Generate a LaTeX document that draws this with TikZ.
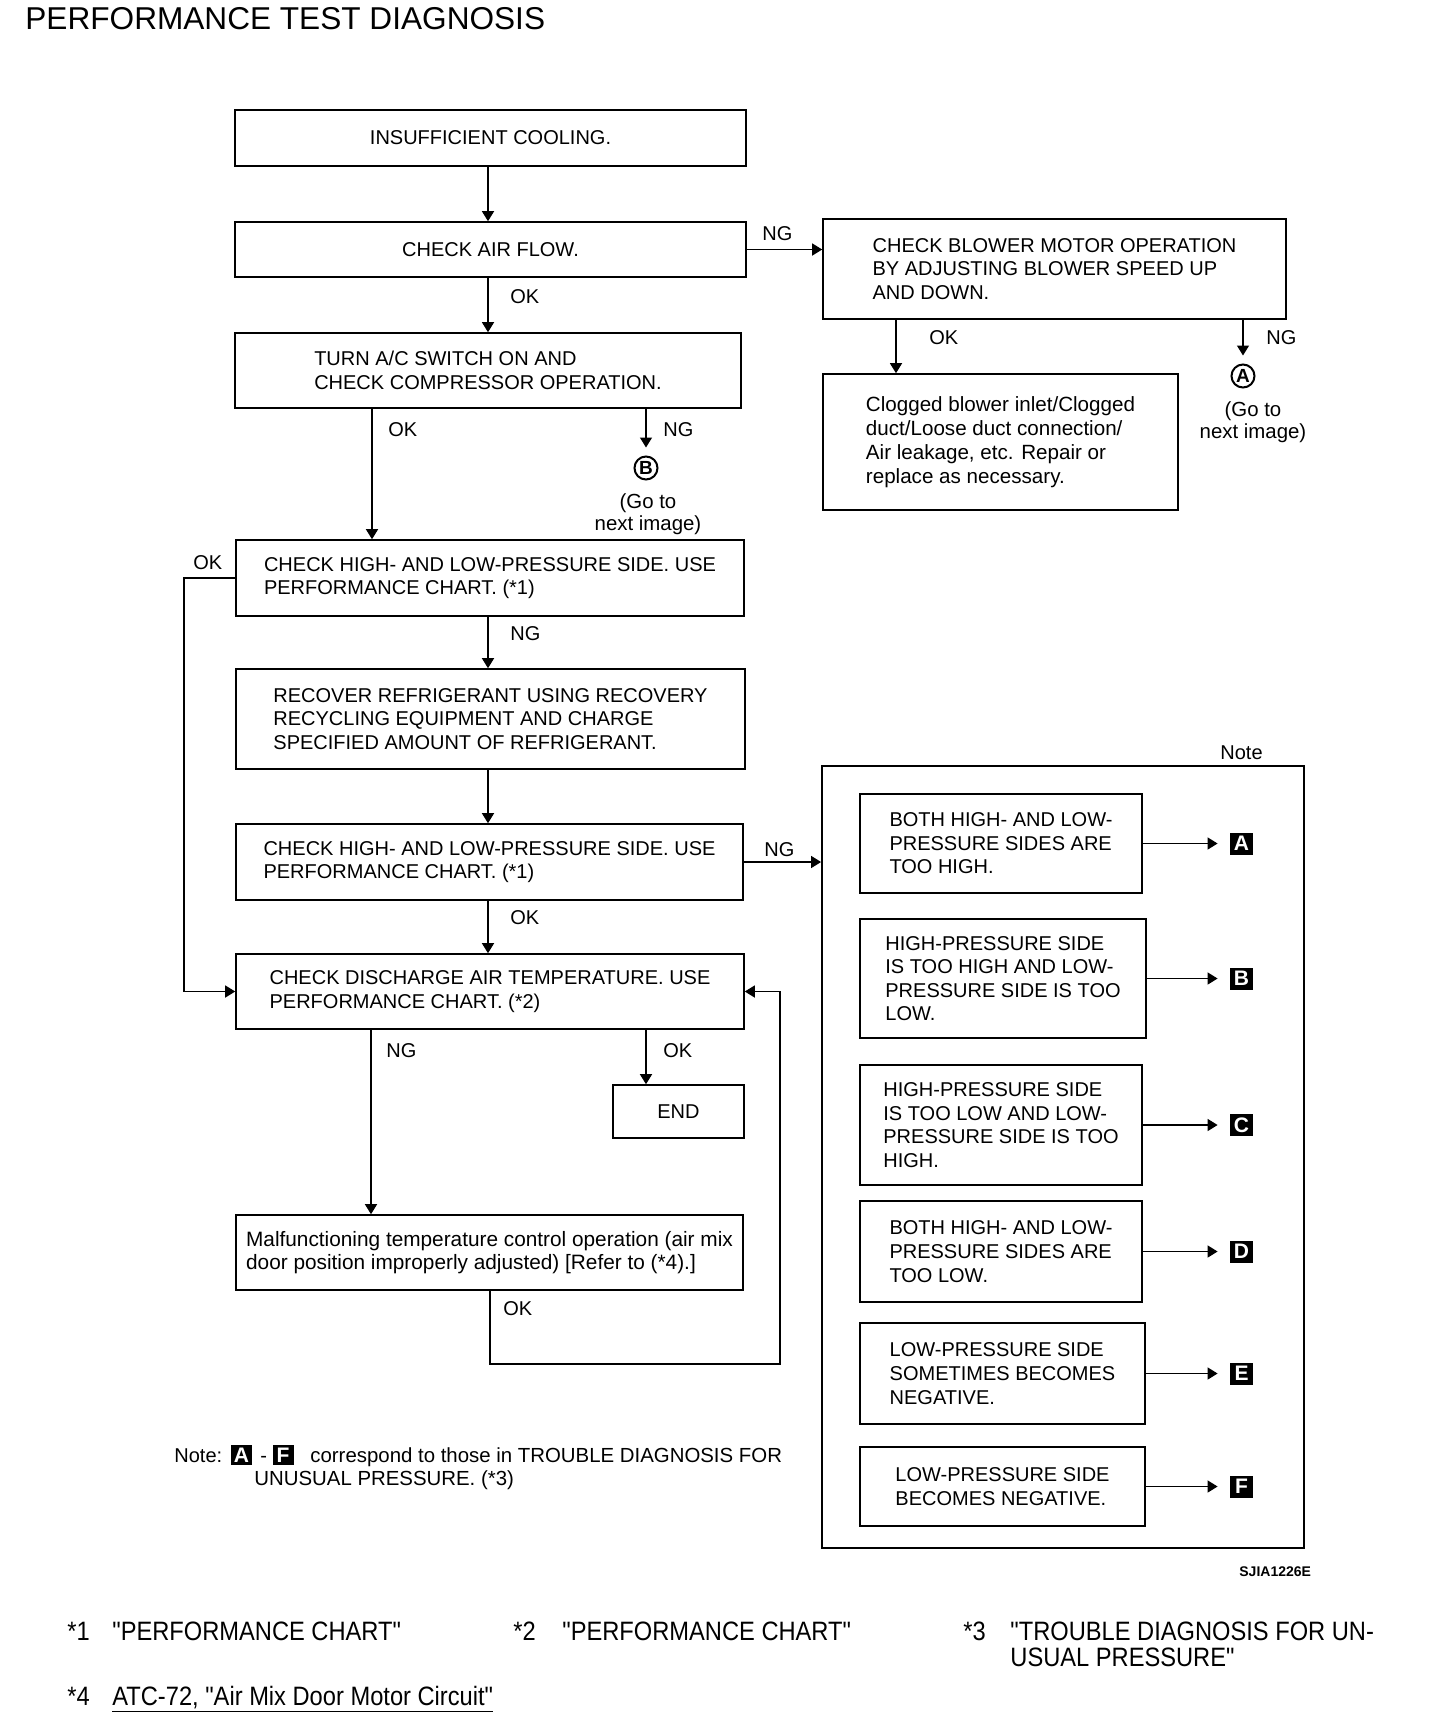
\documentclass[tikz,border=0pt]{standalone}
\usepackage{fontspec}
\setmainfont{Liberation Sans}
\newfontfamily\footfont[FakeStretch=0.89]{Liberation Sans}
\usetikzlibrary{arrows.meta}
\begin{document}
\begin{tikzpicture}[x=0.5pt,y=-0.5pt,
  box/.style={draw, line width=0.8pt, inner sep=0pt, align=left, font=\fontsize{10}{11.8}\selectfont},
  lbl/.style={anchor=base west, inner sep=0pt, font=\fontsize{10}{12}\selectfont},
  arr/.style={line width=0.7pt, -{Triangle[length=5pt,width=6pt]}},
  circ/.style={circle, draw, line width=1pt, minimum size=11.5pt, inner sep=0pt, font=\bfseries\fontsize{9.5}{9.5}\selectfont},
  tag/.style={fill=black, text=white, inner sep=0pt, minimum width=11.5pt, minimum height=11pt, font=\bfseries\fontsize{10.5}{10.5}\selectfont},
  goto/.style={anchor=north, inner sep=0pt, align=center, font=\fontsize{10.2}{11}\selectfont},
  foot/.style={anchor=base west, inner sep=0pt, font=\footfont\fontsize{13.3}{13}\selectfont}]
\useasboundingbox (0,0) rectangle (1440,1726);

% title
\node[anchor=base west, inner sep=0pt, font=\fontsize{15.8}{16}\selectfont] (title) at (25,29) {PERFORMANCE TEST DIAGNOSIS};

% main column
\node[box, minimum width=255.5pt, minimum height=28pt] (b1) at (490.5,138) {INSUFFICIENT COOLING.};
\node[box, minimum width=255.5pt, minimum height=27.5pt] (b2) at (490.5,249.5) {CHECK AIR FLOW.};
\node[box, minimum width=253pt, minimum height=37.5pt] (b3) at (488,370.5) {TURN A/C SWITCH ON AND\\CHECK COMPRESSOR OPERATION.};
\node[box, minimum width=254pt, minimum height=38pt] (b4) at (490,578) {CHECK HIGH- AND LOW-PRESSURE SIDE. USE\\PERFORMANCE CHART. (*1)};
\node[box, minimum width=254.5pt, minimum height=50pt] (b5) at (490.5,719) {RECOVER REFRIGERANT USING RECOVERY\\RECYCLING EQUIPMENT AND CHARGE\\SPECIFIED AMOUNT OF REFRIGERANT.};
\node[box, minimum width=253.5pt, minimum height=38pt] (b6) at (489.5,862) {CHECK HIGH- AND LOW-PRESSURE SIDE. USE\\PERFORMANCE CHART. (*1)};
\node[box, minimum width=254pt, minimum height=37.5pt] (b7) at (490,991.5) {CHECK DISCHARGE AIR TEMPERATURE. USE\\PERFORMANCE CHART. (*2)};
\node[box, minimum width=65.5pt, minimum height=26.5pt, align=center] (end) at (678.5,1111.5) {END};
\node[box, minimum width=253.5pt, minimum height=37.5pt, font=\fontsize{10.4}{11.8}\selectfont] (b8) at (489.5,1252.5) {Malfunctioning temperature control operation (air mix\\door position improperly adjusted) [Refer to (*4).]};

% right upper
\node[box, minimum width=231.5pt, minimum height=50pt] (blower) at (1054.5,269) {CHECK BLOWER MOTOR OPERATION\\BY ADJUSTING BLOWER SPEED UP\\AND DOWN.};
\node[box, minimum width=177.5pt, minimum height=68pt, font=\fontsize{10.3}{11.9}\selectfont] (clog) at (1000.5,442) {Clogged blower inlet/Clogged\\duct/Loose duct connection/\\Air leakage, etc. Repair or\\replace as necessary.};

% circled connectors
\node[circ] (cB) at (646,468) {B};
\node[goto] (gB) at (648,493) {(Go to\\next image)};
\node[circ] (cA) at (1243,376) {A};
\node[goto] (gA) at (1253,401) {(Go to\\next image)};

% note panel
\node[lbl] (notelbl) at (1220,759) {Note};
\node[box, line width=0.9pt, minimum width=241pt, minimum height=391pt] (notebox) at (1063,1157) {};
\node[box, minimum width=141pt, minimum height=49.5pt] (nA) at (1001,843.5) {BOTH HIGH- AND LOW-\\PRESSURE SIDES ARE\\TOO HIGH.};
\node[box, minimum width=143pt, minimum height=59.5pt] (nB) at (1003,978.5) {HIGH-PRESSURE SIDE\\IS TOO HIGH AND LOW-\\PRESSURE SIDE IS TOO\\LOW.};
\node[box, minimum width=141pt, minimum height=60pt] (nC) at (1001,1125) {HIGH-PRESSURE SIDE\\IS TOO LOW AND LOW-\\PRESSURE SIDE IS TOO\\HIGH.};
\node[box, minimum width=141pt, minimum height=50.5pt] (nD) at (1001,1251.5) {BOTH HIGH- AND LOW-\\PRESSURE SIDES ARE\\TOO LOW.};
\node[box, minimum width=142.5pt, minimum height=50.5pt] (nE) at (1002.5,1373.5) {LOW-PRESSURE SIDE\\SOMETIMES BECOMES\\NEGATIVE.};
\node[box, minimum width=142.5pt, minimum height=39.5pt] (nF) at (1002.5,1486.5) {LOW-PRESSURE SIDE\\BECOMES NEGATIVE.};
\node[tag] (tA) at (1241.5,843.5) {A};
\node[tag] (tB) at (1241.5,978.5) {B};
\node[tag] (tC) at (1241.5,1125) {C};
\node[tag] (tD) at (1241.5,1251.5) {D};
\node[tag] (tE) at (1241.5,1373.5) {E};
\node[tag] (tF) at (1241.5,1486.5) {F};
\foreach \s in {A,B,C,D,E,F} {\draw[arr, shorten >=6pt] (n\s.east) -- (t\s.west);}

% connector coordinates
\coordinate (mx) at (488,0);
\coordinate (okx) at (372,0);
\coordinate (bx) at (646,0);
\coordinate (okx2) at (896,0);
\coordinate (lx) at (184,0);
\coordinate (ngx) at (371,0);
\coordinate (rx) at (490,1364);
\coordinate (rx2) at (780,0);

% connectors
\draw[arr] (b1.south -| mx) -- (b2.north -| mx);
\draw[arr] (b2.south -| mx) -- (b3.north -| mx);
\draw[arr] (b3.south -| okx) -- (b4.north -| okx);
\draw[arr, shorten >=4pt] (b3.south -| bx) -- (cB.north);
\draw[arr] (b2.east) -- (b2.east -| blower.west);
\draw[arr] (blower.south -| okx2) -- (clog.north -| okx2);
\draw[arr, shorten >=4pt] (blower.south -| cA) -- (cA.north);
\draw[arr] (b4.west) -- (b4.west -| lx) -- (b7.west -| lx) -- (b7.west);
\draw[arr] (b4.south -| mx) -- (b5.north -| mx);
\draw[arr] (b5.south -| mx) -- (b6.north -| mx);
\draw[arr] (b6.south -| mx) -- (b7.north -| mx);
\draw[arr] (b6.east) -- (b6.east -| notebox.west);
\draw[arr] (b7.south -| ngx) -- (b8.north -| ngx);
\draw[arr] (b7.south -| bx) -- (end.north -| bx);
\draw[arr] (b8.south -| rx) -- (rx) -- (rx -| rx2) -- (b7.east -| rx2) -- (b7.east);

% connector labels
\node[lbl] (l1) at (510,303) {OK};
\node[lbl] (l2) at (762,240) {NG};
\node[lbl] (l3) at (388,436) {OK};
\node[lbl] (l4) at (663,436) {NG};
\node[lbl] (l5) at (929,344) {OK};
\node[lbl] (l6) at (1266,344) {NG};
\node[lbl] (l7) at (193,569) {OK};
\node[lbl] (l8) at (510,640) {NG};
\node[lbl] (l9) at (510,924) {OK};
\node[lbl] (l10) at (764,856) {NG};
\node[lbl] (l11) at (386,1057) {NG};
\node[lbl] (l12) at (663,1057) {OK};
\node[lbl] (l13) at (503,1315) {OK};

% note under diagram
\node[lbl] (nt1) at (174,1462) {Note:};
\node[tag, minimum width=10.5pt, minimum height=10pt] (ntA) at (241.5,1455) {A};
\node[lbl] (ntd) at (260,1462) {-};
\node[tag, minimum width=10.5pt, minimum height=10pt] (ntF) at (283,1455) {F};
\node[lbl, font=\fontsize{10.2}{12}\selectfont] (nt2) at (310,1462) {correspond to those in TROUBLE DIAGNOSIS FOR};
\node[lbl, font=\fontsize{10.2}{12}\selectfont] (nt3) at (254,1485) {UNUSUAL PRESSURE. (*3)};

\node[anchor=base west, inner sep=0pt, font=\bfseries\fontsize{7}{7}\selectfont] (code) at (1239,1576) {SJIA1226E};

% footnotes
\node[foot] (f1a) at (67,1640) {*1};
\node[foot] (f1b) at (112,1640) {"PERFORMANCE CHART"};
\node[foot] (f2a) at (513,1640) {*2};
\node[foot] (f2b) at (562,1640) {"PERFORMANCE CHART"};
\node[foot] (f3a) at (963,1640) {*3};
\node[foot] (f3b) at (1010,1640) {"TROUBLE DIAGNOSIS FOR UN-};
\node[foot] (f3c) at (1010,1666) {USUAL PRESSURE"};
\node[foot] (f4a) at (67,1705) {*4};
\node[foot] (f4b) at (112,1705) {\underline{ATC-72, "Air Mix Door Motor Circuit"}};
\end{tikzpicture}
\end{document}
